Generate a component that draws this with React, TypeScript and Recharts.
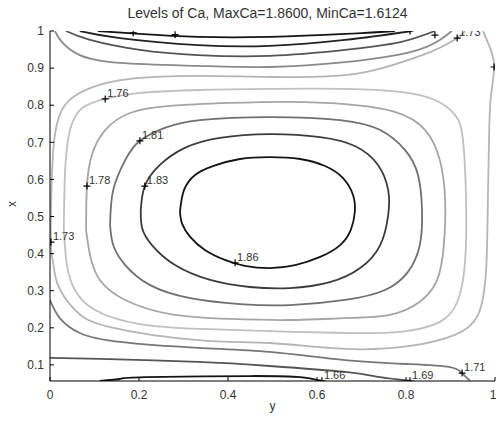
import React from 'react';
import { ComposedChart, Line, Scatter, XAxis, YAxis } from 'recharts';

// contour paths as [y, x] pairs (y horizontal, x vertical)
const lev164Top = [[0.108, 1], [0.202, 0.992], [0.333, 0.984], [0.494, 0.984], [0.663, 0.992], [0.775, 1]];
const lev166Top = [[0.067, 1], [0.157, 0.981], [0.333, 0.962], [0.494, 0.96], [0.663, 0.976], [0.813, 1]];
const lev166Bot = [[0.112, 0.057], [0.157, 0.062], [0.213, 0.067], [0.449, 0.07], [0.562, 0.067], [0.611, 0.057]];
const lev169Top = [[0.036, 1], [0.09, 0.976], [0.202, 0.949], [0.333, 0.935], [0.494, 0.933], [0.663, 0.949], [0.787, 0.97], [0.865, 1]];
const lev169Bot = [[0, 0.119], [0.112, 0.116], [0.333, 0.108], [0.494, 0.097], [0.663, 0.081], [0.742, 0.067], [0.809, 0.057]];
const lev171Top = [[0.011, 1], [0.027, 0.97], [0.067, 0.935], [0.157, 0.914], [0.333, 0.906], [0.494, 0.903], [0.663, 0.916], [0.809, 0.943], [0.876, 0.976], [0.903, 1]];
const lev171Bot = [[0, 0.275], [0.022, 0.226], [0.067, 0.186], [0.157, 0.162], [0.333, 0.146], [0.494, 0.135], [0.663, 0.113], [0.809, 0.102], [0.899, 0.094], [0.926, 0.078], [0.944, 0.057]];
const lev173 = [
  [0.933, 1], [0.915, 0.981], [0.854, 0.943], [0.764, 0.906], [0.663, 0.881], [0.494, 0.876], [0.333, 0.879],
  [0.18, 0.871], [0.09, 0.846], [0.034, 0.801], [0.011, 0.72], [0.004, 0.598], [0.002, 0.431], [0.007, 0.377],
  [0.018, 0.315], [0.056, 0.248], [0.135, 0.202], [0.333, 0.167], [0.494, 0.159], [0.663, 0.143], [0.809, 0.151],
  [0.91, 0.181], [0.962, 0.235], [0.98, 0.356], [0.984, 0.544], [0.987, 0.733], [0.991, 0.827], [0.998, 0.903],
  [0.989, 0.954], [0.973, 1],
];
const lev176 = [
  [0.031, 0.464], [0.034, 0.625], [0.045, 0.733], [0.072, 0.792], [0.124, 0.817], [0.202, 0.833], [0.337, 0.841],
  [0.494, 0.844], [0.663, 0.844], [0.787, 0.836], [0.865, 0.814], [0.91, 0.774], [0.928, 0.706], [0.935, 0.544],
  [0.933, 0.383], [0.917, 0.275], [0.876, 0.216], [0.787, 0.189], [0.663, 0.186], [0.494, 0.191], [0.337, 0.197],
  [0.202, 0.21], [0.101, 0.248], [0.056, 0.302], [0.038, 0.369], [0.031, 0.464],
];
const lev178 = [
  [0.081, 0.464], [0.083, 0.582], [0.094, 0.666], [0.124, 0.733], [0.18, 0.779], [0.27, 0.798], [0.404, 0.806],
  [0.539, 0.809], [0.663, 0.803], [0.775, 0.782], [0.843, 0.733], [0.876, 0.652], [0.888, 0.544], [0.885, 0.423],
  [0.87, 0.329], [0.831, 0.27], [0.764, 0.235], [0.663, 0.226], [0.539, 0.221], [0.404, 0.224], [0.27, 0.237],
  [0.169, 0.275], [0.112, 0.329], [0.09, 0.396], [0.081, 0.464],
];
const lev181 = [
  [0.135, 0.477], [0.142, 0.571], [0.169, 0.652], [0.202, 0.704], [0.258, 0.739], [0.337, 0.76], [0.494, 0.768],
  [0.652, 0.76], [0.742, 0.733], [0.798, 0.679], [0.827, 0.612], [0.836, 0.518], [0.831, 0.423], [0.804, 0.35],
  [0.753, 0.302], [0.663, 0.275], [0.539, 0.261], [0.427, 0.264], [0.315, 0.28], [0.225, 0.315], [0.169, 0.369],
  [0.142, 0.423], [0.135, 0.477],
];
const lev183 = [
  [0.204, 0.518], [0.213, 0.582], [0.247, 0.639], [0.303, 0.685], [0.382, 0.712], [0.494, 0.722], [0.607, 0.714],
  [0.685, 0.69], [0.737, 0.639], [0.76, 0.571], [0.76, 0.504], [0.742, 0.423], [0.697, 0.361], [0.629, 0.323],
  [0.539, 0.307], [0.449, 0.31], [0.36, 0.329], [0.281, 0.369], [0.229, 0.423], [0.207, 0.469], [0.204, 0.518],
];
const lev186 = [
  [0.292, 0.512], [0.301, 0.571], [0.326, 0.612], [0.366, 0.636], [0.427, 0.655], [0.494, 0.66], [0.562, 0.655],
  [0.618, 0.636], [0.658, 0.604], [0.681, 0.558], [0.685, 0.512], [0.676, 0.464], [0.652, 0.423], [0.607, 0.391],
  [0.551, 0.369], [0.494, 0.361], [0.438, 0.367], [0.393, 0.383], [0.348, 0.41], [0.315, 0.445], [0.297, 0.48],
  [0.292, 0.512],
];

const contours = [
  { id: 'l164t', pts: lev164Top, color: '#151515' },
  { id: 'l166t', pts: lev166Top, color: '#222' },
  { id: 'l166b', pts: lev166Bot, color: '#151515' },
  { id: 'l169t', pts: lev169Top, color: '#555' },
  { id: 'l169b', pts: lev169Bot, color: '#555' },
  { id: 'l171t', pts: lev171Top, color: '#8a8a8a' },
  { id: 'l171b', pts: lev171Bot, color: '#777' },
  { id: 'l173', pts: lev173, color: '#b5b5b5' },
  { id: 'l176', pts: lev176, color: '#c0c0c0' },
  { id: 'l178', pts: lev178, color: '#a5a5a5' },
  { id: 'l181', pts: lev181, color: '#707070' },
  { id: 'l183', pts: lev183, color: '#3c3c3c' },
  { id: 'l186', pts: lev186, color: '#151515' },
];

// clabel markers
const labelPts = [
  { h: 0.416, v: 0.375, t: '1.86' },
  { h: 0.213, v: 0.582, t: '1.83' },
  { h: 0.202, v: 0.704, t: '1.81' },
  { h: 0.083, v: 0.582, t: '1.78' },
  { h: 0.124, v: 0.817, t: '1.76' },
  { h: 0.002, v: 0.431, t: '1.73' },
  { h: 0.611, v: 0.057, t: '1.66' },
  { h: 0.809, v: 0.057, t: '1.69' },
  { h: 0.926, v: 0.078, t: '1.71' },
  { h: 0.915, v: 0.981, t: '1.73' },
  { h: 0.187, v: 0.995, t: '' },
  { h: 0.281, v: 0.99, t: '' },
  { h: 0.809, v: 1, t: '' },
  { h: 0.865, v: 0.989, t: '' },
  { h: 0.998, v: 0.903, t: '' },
];

const xTicks = [0, 0.2, 0.4, 0.6, 0.8, 1];
const yTicks = [0.1, 0.2, 0.3, 0.4, 0.5, 0.6, 0.7, 0.8, 0.9, 1];

const FONT = '"Liberation Sans", Arial, sans-serif';
const toPts = (arr: number[][]) => arr.map(([h, v]) => ({ h, v }));

const Marker = (props: any) => {
  const { cx, cy, payload } = props;
  return (
    <g>
      <path d={`M${cx - 3.5},${cy}H${cx + 3.5}M${cx},${cy - 3.5}V${cy + 3.5}`} stroke="#000" strokeWidth={1.2} />
      {payload.t ? (
        <text x={cx + 2} y={cy - 2} fontSize={11} fill="#333" fontFamily={FONT}>
          {payload.t}
        </text>
      ) : null}
    </g>
  );
};

const yTitle = (p: any) => {
  const { x, y, height } = p.viewBox;
  const cx = x + 6;
  const cy = y + height / 2 - 2;
  return (
    <text x={cx} y={cy} transform={`rotate(-90 ${cx} ${cy})`} textAnchor="middle" fontSize={12} fill="#333" fontFamily={FONT}>
      x
    </text>
  );
};

const xTitle = (p: any) => {
  const { x, y, width } = p.viewBox;
  return (
    <text x={x + width / 2} y={y + 29} textAnchor="middle" fontSize={12} fill="#333" fontFamily={FONT}>
      y
    </text>
  );
};

export default function App() {
  const tickStyle = { fontSize: 12, fill: '#333', fontFamily: FONT };
  return (
    <div style={{ position: 'absolute', left: 0, top: 0, width: 496, height: 421, background: '#fff', fontFamily: FONT }}>
      <div
        style={{
          position: 'absolute', left: 45, top: 5, width: 445, textAlign: 'center',
          fontSize: 14, lineHeight: '16px', color: '#333',
        }}
      >
        Levels of Ca, MaxCa=1.8600, MinCa=1.6124
      </div>
      <ComposedChart width={496} height={421} margin={{ top: 31, right: 1, bottom: 0, left: 10 }}>
        <XAxis
          dataKey="h" type="number" domain={[0, 1]} ticks={xTicks} allowDataOverflow
          height={40} tickSize={-4} tickMargin={13} tick={tickStyle}
          stroke="#000" tickLine={{ stroke: '#000' }} label={xTitle}
        />
        <XAxis
          xAxisId="top" orientation="top" type="number" domain={[0, 1]} ticks={xTicks}
          height={0} tickSize={-4} tick={false} stroke="#000" tickLine={{ stroke: '#000' }}
        />
        <YAxis
          dataKey="v" type="number" domain={[0.0566, 1]} ticks={yTicks} allowDataOverflow
          width={40} tickSize={-4} tickMargin={10} tick={tickStyle}
          stroke="#000" tickLine={{ stroke: '#000' }} label={yTitle}
        />
        <YAxis
          yAxisId="right" orientation="right" type="number" domain={[0.0566, 1]} ticks={yTicks}
          width={0} tickSize={-4} tick={false} stroke="#000" tickLine={{ stroke: '#000' }}
        />
        {contours.map((c) => (
          <Line
            key={c.id}
            data={toPts(c.pts)}
            dataKey="v"
            type="natural"
            stroke={c.color}
            strokeWidth={1.8}
            dot={false}
            activeDot={false}
            isAnimationActive={false}
          />
        ))}
        <Scatter data={labelPts} dataKey="v" shape={Marker} isAnimationActive={false} />
      </ComposedChart>
    </div>
  );
}
